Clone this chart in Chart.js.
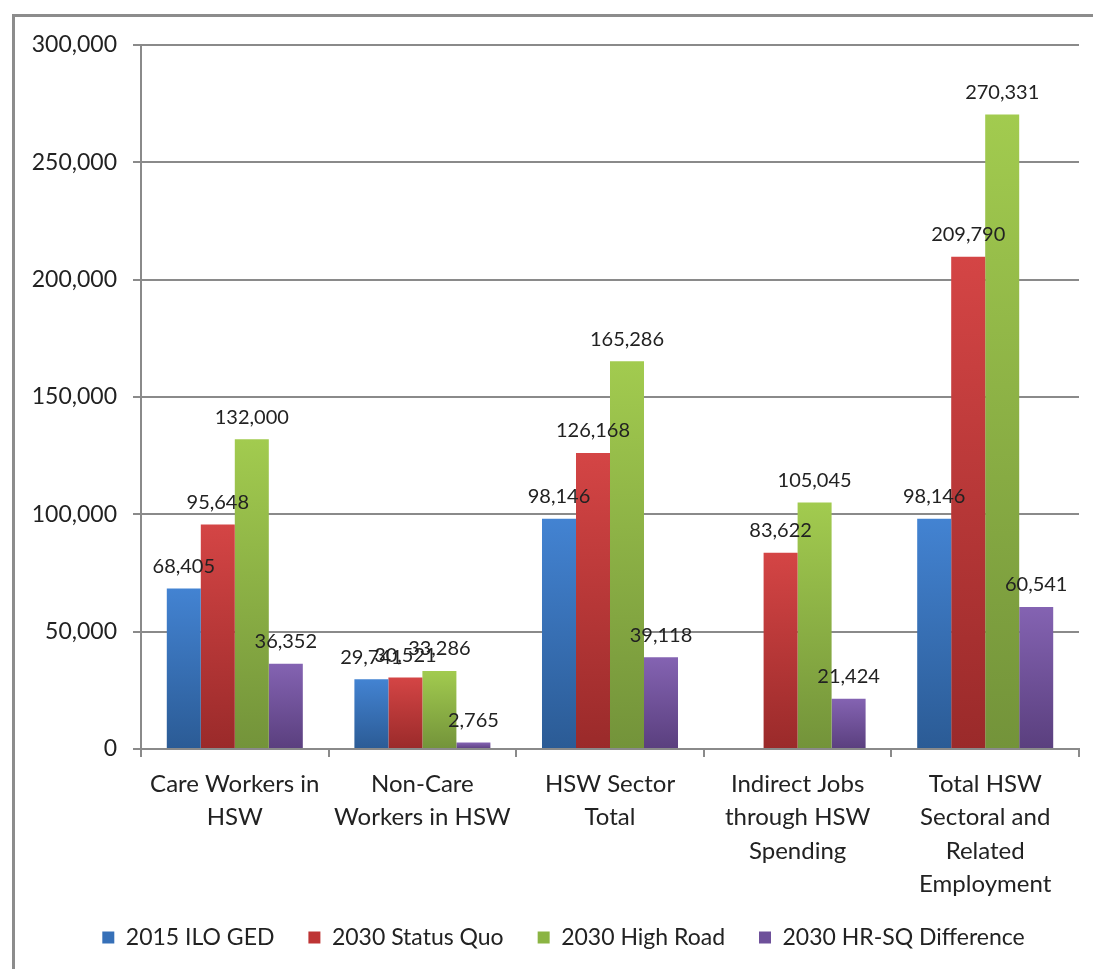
<!DOCTYPE html>
<html>
<head>
<meta charset="utf-8">
<script src="https://cdn.jsdelivr.net/npm/chart.js@4"></script>
<style>
html,body{margin:0;padding:0;background:#fff;}
#wrap{position:relative;width:1093px;height:969px;}
canvas{display:block;}
</style>
</head>
<body>
<div id="wrap"><canvas id="c" width="1093" height="969"></canvas></div>
<script>
const categories = [
  ["Care Workers in", "HSW"],
  ["Non-Care", "Workers in HSW"],
  ["HSW Sector", "Total"],
  ["Indirect Jobs", "through HSW", "Spending"],
  ["Total HSW", "Sectoral and", "Related", "Employment"]
];
const seriesNames = ["2015 ILO GED", "2030 Status Quo", "2030 High Road", "2030 HR-SQ Difference"];
const ilo2015 = [68405, 29741, 98146, null, 98146];
const statusQuo2030 = [95648, 30521, 126168, 83622, 209790];
const highRoad2030 = [132000, 33286, 165286, 105045, 270331];
const hrSqDiff2030 = [36352, 2765, 39118, 21424, 60541];
const yTicks = [0, 50000, 100000, 150000, 200000, 250000, 300000];

const gradColors = [
  ["#4383d2", "#2b5b95"],
  ["#d44545", "#9a2a2a"],
  ["#a2cb4f", "#73933a"],
  ["#8463b2", "#5a3f7e"]
];
const solidColors = ["#3670b8", "#be3434", "#8bb443", "#6e509a"];
const FONT = "Lato, 'Open Sans', sans-serif";
const TXT = "#222222";
const GRID = "#8a8a8a";

function barFill(i) {
  return function(ctx) {
    const chart = ctx.chart;
    const ca = chart.chartArea;
    if (!ca || ctx.parsed == null || ctx.raw == null) return solidColors[i];
    const y = chart.scales.y;
    const top = y.getPixelForValue(ctx.raw);
    const bot = y.getPixelForValue(0);
    if (!isFinite(top) || !isFinite(bot) || bot - top < 1) return gradColors[i][0];
    const g = chart.ctx.createLinearGradient(0, top, 0, bot);
    g.addColorStop(0, gradColors[i][0]);
    g.addColorStop(1, gradColors[i][1]);
    return g;
  };
}

const seriesData = [ilo2015, statusQuo2030, highRoad2030, hrSqDiff2030];

const frame = {
  id: "frame",
  beforeDraw(chart) {
    const c = chart.ctx;
    c.save();
    c.strokeStyle = "#8c8c8c";
    c.lineWidth = 3;
    c.beginPath();
    c.moveTo(13.5, 969);
    c.lineTo(13.5, 15.5);
    c.lineTo(1093, 15.5);
    c.stroke();
    c.restore();
  }
};

const legendShift = {
  id: "legendShift",
  afterLayout(chart) {
    if (chart.legend) {
      chart.legend.left += 24;
      chart.legend.right += 24;
      chart.legend.top -= 4;
      chart.legend.bottom -= 4;
    }
  }
};

const valueLabels = {
  id: "valueLabels",
  afterDatasetsDraw(chart) {
    const c = chart.ctx;
    c.save();
    c.font = "20px " + FONT;
    c.fillStyle = TXT;
    c.textAlign = "center";
    c.textBaseline = "middle";
    chart.data.datasets.forEach((ds, di) => {
      const meta = chart.getDatasetMeta(di);
      meta.data.forEach((el, i) => {
        const v = ds.data[i];
        if (v == null) return;
        c.fillText(v.toLocaleString("en-US"), el.x, el.y - 22);
      });
    });
    c.restore();
  }
};

new Chart(document.getElementById("c"), {
  type: "bar",
  data: {
    labels: categories,
    datasets: seriesNames.map((n, i) => ({
      label: n,
      data: seriesData[i],
      backgroundColor: barFill(i),
      borderWidth: 0,
      barPercentage: 1.0,
      categoryPercentage: 0.725
    }))
  },
  options: {
    responsive: false,
    animation: false,
    devicePixelRatio: 1,
    layout: { padding: { top: 45, right: 14, left: 0, bottom: 6 } },
    plugins: {
      tooltip: { enabled: false },
      legend: {
        position: "bottom",
        labels: {
          font: { family: FONT, size: 23 },
          color: TXT,
          boxWidth: 12,
          boxHeight: 12,
          padding: 34,
          generateLabels(chart) {
            return chart.data.datasets.map((ds, i) => ({
              text: ds.label,
              fillStyle: solidColors[i],
              strokeStyle: solidColors[i],
              lineWidth: 0,
              hidden: false,
              datasetIndex: i,
              fontColor: TXT
            }));
          }
        }
      }
    },
    scales: {
      x: {
        grid: { display: true, drawOnChartArea: false, drawTicks: true, tickLength: 8, color: GRID, lineWidth: 2, offset: true },
        border: { display: true, color: GRID, width: 2 },
        ticks: { font: { family: FONT, size: 24, lineHeight: 1.38 }, color: TXT, padding: 11, maxRotation: 0, autoSkip: false },
        afterFit(scale) { scale.height = 147; }
      },
      y: {
        min: 0, max: 300000,
        afterBuildTicks(scale) { scale.ticks = yTicks.map(v => ({ value: v })); },
        grid: { color: GRID, lineWidth: 2, drawTicks: true, tickLength: 8 },
        border: { display: true, color: GRID, width: 2 },
        ticks: {
          font: { family: FONT, size: 23 }, color: TXT, padding: 16,
          callback: v => v.toLocaleString("en-US")
        },
        afterFit(scale) { scale.width = 141; }
      }
    }
  },
  plugins: [frame, legendShift, valueLabels]
});
</script>
</body>
</html>
